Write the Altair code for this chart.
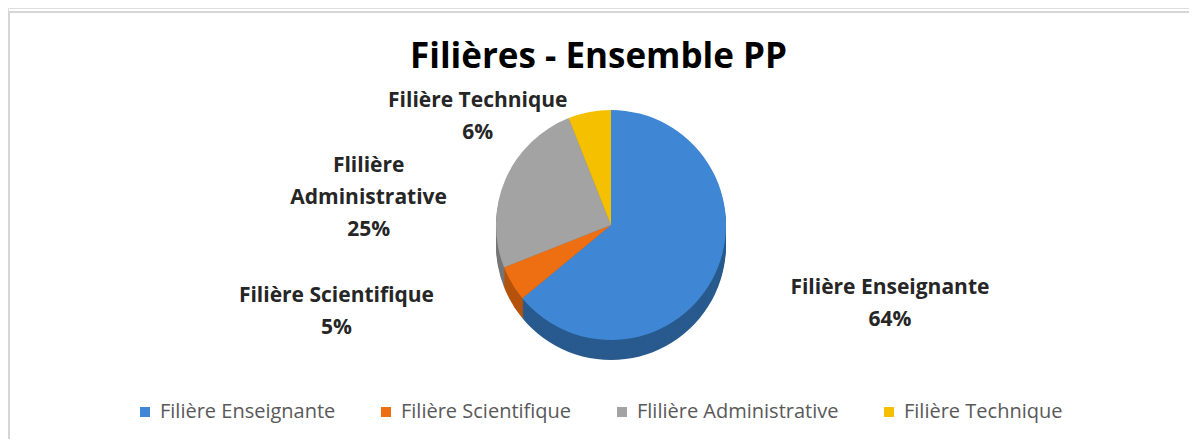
import altair as alt
import pandas as pd

# ---- data ----
categories = ["Filière Enseignante", "Filière Scientifique", "Flilière Administrative", "Filière Technique"]
values = [64, 5, 25, 6]
label_texts = ["Filière Enseignante\n64%", "Filière Scientifique\n5%", "Flilière\nAdministrative\n25%", "Filière Technique\n6%"]
top_colors = ["#3F87D4", "#EE6F12", "#A3A3A3", "#F4C000"]
side_colors = ["#285A8E", "#B5530C", "#767676", "#B58E00"]

df = pd.DataFrame({
    "category": categories,
    "value": values,
    "order": list(range(len(categories))),
    "label": label_texts,
})

W, H = 1181, 431
CX, CY = 603, 217      # pie centre (view coords)
R = 115                # pie radius
DEPTH = 20             # 3D thickness
FONT = "Open Sans"

base = alt.Chart(df)

layers = []
# side (thickness) of the pie: stacked copies shifted downward
side_domain = ["side-" + c for c in categories]
side_base = base.transform_calculate(side="'side-' + datum.category")
for k in range(DEPTH, 0, -2):
    layers.append(
        side_base.mark_arc(radius=R).encode(
            theta=alt.Theta("value:Q", stack=True),
            order=alt.Order("order:Q"),
            fill=alt.Fill("side:N", scale=alt.Scale(domain=side_domain, range=side_colors), legend=None),
            x=alt.value(CX),
            y=alt.value(CY + k),
        )
    )

# top face
layers.append(
    base.mark_arc(radius=R).encode(
        theta=alt.Theta("value:Q", stack=True),
        order=alt.Order("order:Q"),
        color=alt.Color(
            "category:N",
            scale=alt.Scale(domain=categories, range=top_colors),
            sort=categories,
            legend=alt.Legend(
                title=None,
                orient="none",
                direction="horizontal",
                columns=4,
                legendX=127,
                legendY=394,
                symbolType="square",
                symbolSize=100,
                symbolStrokeWidth=0,
                labelFont=FONT,
                labelFontSize=20,
                labelColor="#595959",
                labelLimit=0,
                labelOffset=5,
                columnPadding=40,
                padding=0,
            ),
        ),
        x=alt.value(CX),
        y=alt.value(CY),
    )
)

# labels (mid-angle of each slice, then nudged outward)
label_style = {
    0: dict(radius=190, dx=107, dy=-18),
    1: dict(radius=190, dx=-111, dy=-26),
    2: dict(radius=190, dx=-68, dy=16),
    3: dict(radius=140, dx=-107, dy=14),
}
lab_base = base.transform_window(
    cum="sum(value)", sort=[alt.SortField("order")], frame=[None, 0]
).transform_calculate(
    mid="datum.cum - datum.value / 2"
)
for i, st in label_style.items():
    layers.append(
        lab_base.transform_filter(alt.datum.order == i).mark_text(
            radius=st["radius"], dx=st["dx"], dy=st["dy"],
            align="center", baseline="middle", lineBreak="\n",
            font=FONT, fontSize=21, fontWeight="bold", color="#262626", lineHeight=32,
        ).encode(
            theta=alt.Theta("mid:Q"),
            text="label:N",
            x=alt.value(CX),
            y=alt.value(CY),
        )
    )

# chart frame (light border, top and left)
frame_df = pd.DataFrame({"a": [0]})
layers.append(
    alt.Chart(frame_df).mark_rule(color="#d6d6d6", strokeWidth=2).encode(
        x=alt.value(0), x2=alt.value(W), y=alt.value(4)
    )
)
layers.append(
    alt.Chart(frame_df).mark_rule(color="#d6d6d6", strokeWidth=2).encode(
        x=alt.value(1), y=alt.value(4), y2=alt.value(H)
    )
)

chart = alt.layer(*layers).properties(
    width=W,
    height=H,
    autosize=alt.AutoSizeParams(type="none"),
    padding=0,
    title=alt.TitleParams(
        "Filières - Ensemble PP",
        font=FONT, fontSize=35, fontWeight="bold", color="#000000",
        anchor="middle", baseline="alphabetic", offset=-60, dy=35,
    ),
).configure_view(stroke=None).configure(background="white")

chart.save("out.html", embed_options={"renderer": "svg", "actions": False})
